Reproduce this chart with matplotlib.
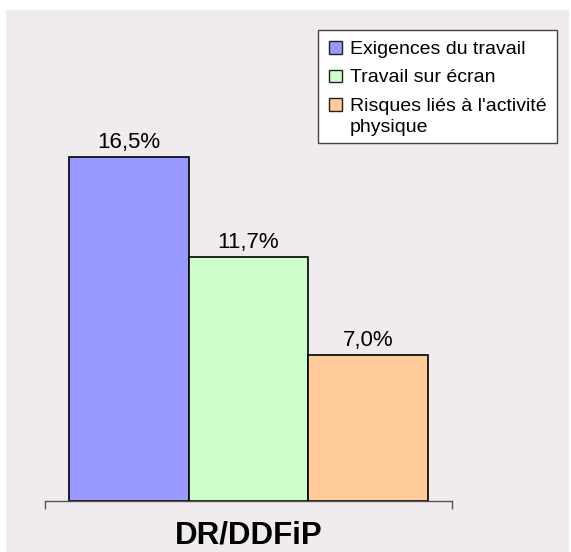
import matplotlib
matplotlib.use("Agg")
from matplotlib import pyplot as plt
from matplotlib.patches import Rectangle
import numpy as np

categorie = "DR/DDFiP"
series = ["Exigences du travail", "Travail sur écran", "Risques liés à l'activité\nphysique"]
valeurs = [16.5, 11.7, 7.0]
couleurs = ["#9999FF", "#CCFFCC", "#FFCC99"]

plt.rcParams["font.family"] = ["Liberation Sans", "DejaVu Sans"]

W, H = 571, 552
fig = plt.figure(figsize=(W / 100, H / 100), dpi=100, facecolor="white")


def px(xp, yp):
    # pixels (origine en haut a gauche) -> fraction de figure
    return xp / W, 1 - yp / H


# fond gris rose
fig.patches.append(Rectangle((6 / W, 0), 563 / W, 542 / H, transform=fig.transFigure,
                             facecolor="#EFEBEF", edgecolor="none", zorder=-10))

ax = fig.add_axes([45 / W, 51 / H, 407 / W, 491 / H])
ax.set_facecolor("none")

x = np.arange(len(valeurs)) - 1
barres = ax.bar(x, valeurs, width=1.0, color=couleurs, edgecolor="black",
                linewidth=1.2)

for xi, v in zip(x, valeurs):
    ax.annotate(f"{v:.1f}%".replace(".", ","), (xi, v), xytext=(0, 6.5),
                textcoords="offset points", ha="center", va="baseline", fontsize=16)

ax.set_xlim(-1.7, 1.7)
ax.set_ylim(0, 491 / (344 / 16.5))
for s in ["left", "right", "top"]:
    ax.spines[s].set_visible(False)
ax.spines["bottom"].set_color("#555555")
ax.spines["bottom"].set_linewidth(1.0)
ax.set_yticks([])
ax.set_xticks([-1.7, 1.7])
ax.set_xticklabels([])
ax.tick_params(axis="x", direction="out", length=6, width=1.0, color="#555555")

fig.text(249 / W, 8 / H, categorie, ha="center", va="baseline",
         fontsize=22.5, fontweight="bold")

# legende dessinee a la main pour aligner le carre sur la premiere ligne
x0, y0 = px(318, 143)
x1, y1 = px(557, 30)
fig.patches.append(Rectangle((x0, y0), x1 - x0, y1 - y0, transform=fig.transFigure,
                             facecolor="white", edgecolor="#444444", linewidth=1.0))
bases = [53.5, 82.5, 111]
interligne = 20.5
for nom, coul, b in zip(series, couleurs, bases):
    sx, sy = px(329, b)
    fig.patches.append(Rectangle((sx, sy), 13 / W, 12.5 / H, transform=fig.transFigure,
                                 facecolor=coul, edgecolor="#222222", linewidth=1.0))
    for i, ligne in enumerate(nom.split("\n")):
        tx, ty = px(349.5, b + i * interligne)
        fig.text(tx, ty, ligne, ha="left", va="baseline", fontsize=14)

fig.savefig("out.png", dpi=100, facecolor="white")
